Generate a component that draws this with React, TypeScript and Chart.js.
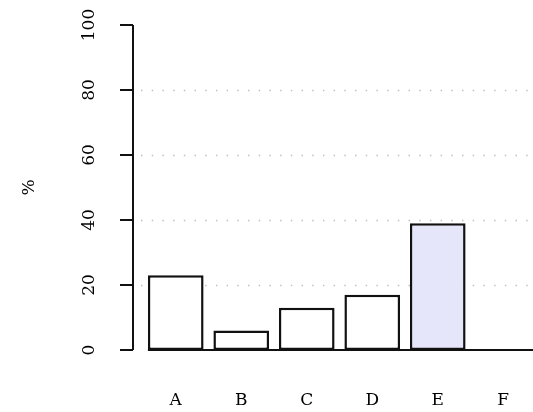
import React, { useEffect, useRef } from "react";
import { Chart, registerables } from "chart.js";

Chart.register(...registerables);

const categories = ["A", "B", "C", "D", "E", "F"];
const values = [23, 6, 13, 17, 39, 0];
const barFills = ["#ffffff", "#ffffff", "#ffffff", "#ffffff", "#e6e6fa", "#ffffff"];
const yTicks = [0, 20, 40, 60, 80, 100];
const gridValues = [20, 40, 60, 80];
const yTitle = "%";

const FONT = "DejaVu Serif";

const axisPlugin = {
  id: "rAxis",
  beforeDatasetsDraw(chart: any) {
    const { ctx, chartArea } = chart;
    const y = chart.scales.y;
    const x = chart.scales.x;
    ctx.save();
    // dotted grid lines
    ctx.strokeStyle = "#c0c0c0";
    ctx.lineWidth = 1.5;
    ctx.setLineDash([1.5, 9.2]);
    gridValues.forEach((v) => {
      const py = Math.round(y.getPixelForValue(v)) + 0.5;
      ctx.beginPath();
      ctx.moveTo(141, py);
      ctx.lineTo(chartArea.right, py);
      ctx.stroke();
    });
    ctx.setLineDash([]);
    // y axis line
    const axisX = 133;
    ctx.strokeStyle = "#111111";
    ctx.lineWidth = 2;
    ctx.beginPath();
    ctx.moveTo(axisX, y.getPixelForValue(100));
    ctx.lineTo(axisX, y.getPixelForValue(0));
    ctx.stroke();
    // ticks and labels
    ctx.fillStyle = "#000000";
    ctx.font = `17px '${FONT}'`;
    ctx.textAlign = "center";
    ctx.textBaseline = "middle";
    yTicks.forEach((v) => {
      const py = y.getPixelForValue(v);
      ctx.beginPath();
      ctx.moveTo(120, py);
      ctx.lineTo(axisX, py);
      ctx.stroke();
      ctx.save();
      ctx.translate(90, py);
      ctx.rotate(-Math.PI / 2);
      ctx.fillText(String(v), 0, 0);
      ctx.restore();
    });
    // x category labels
    categories.forEach((c, i) => {
      ctx.fillText(c, x.getPixelForValue(i), 401);
    });
    // axis title
    ctx.save();
    ctx.translate(30, (y.getPixelForValue(0) + y.getPixelForValue(100)) / 2);
    ctx.rotate(-Math.PI / 2);
    ctx.fillText(yTitle, 0, 0);
    ctx.restore();
    ctx.restore();
  },
  afterDatasetsDraw(chart: any) {
    const { ctx, chartArea } = chart;
    const meta = chart.getDatasetMeta(0);
    const first = meta.data[0];
    const y0 = chart.scales.y.getPixelForValue(0);
    ctx.save();
    ctx.strokeStyle = "#111111";
    ctx.lineWidth = 2;
    ctx.beginPath();
    ctx.moveTo(first.x - first.width / 2, y0);
    ctx.lineTo(chartArea.right, y0);
    ctx.stroke();
    ctx.restore();
  },
};

export default function App() {
  const ref = useRef<HTMLCanvasElement>(null);
  useEffect(() => {
    if (!ref.current) return;
    const chart = new Chart(ref.current, {
      type: "bar",
      data: {
        labels: categories,
        datasets: [
          {
            data: values,
            backgroundColor: barFills,
            borderColor: "#111111",
            borderWidth: 2.5,
            borderSkipped: false,
            barPercentage: 0.85,
            categoryPercentage: 1,
          },
        ],
      },
      options: {
        responsive: false,
        animation: false,
        layout: { padding: { left: 143, top: 25, right: 0, bottom: 62 } },
        plugins: { legend: { display: false }, tooltip: { enabled: false } },
        scales: {
          y: { display: false, min: 0, max: 100 },
          x: { display: false, offset: true },
        },
      },
      plugins: [axisPlugin],
    });
    return () => chart.destroy();
  }, []);
  return (
    <div
      style={{
        position: "absolute",
        left: 0,
        top: 0,
        width: 533,
        height: 412,
        overflow: "hidden",
        background: "#ffffff",
      }}
    >
      <canvas ref={ref} width={536} height={412} style={{ display: "block" }} />
    </div>
  );
}
